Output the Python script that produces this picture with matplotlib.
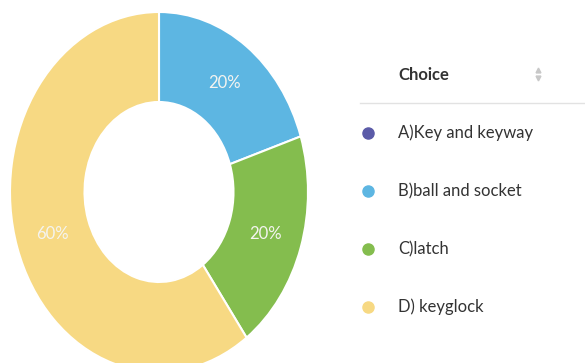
import matplotlib
matplotlib.use("Agg")
import matplotlib.pyplot as plt

categories = ["A)Key and keyway", "B)ball and socket", "C)latch", "D) keyglock"]
values = [0, 20, 20, 60]
colors = ["#5B5BA8", "#5DB6E2", "#84BD4E", "#F7D983"]
header = "Choice"

W, H = 585, 363
fig = plt.figure(figsize=(W / 100, H / 100), dpi=100)
fig.patch.set_facecolor("white")

# donut axes (stretched vertically like the reference)
cx, cy, rx, ry = 159, 192, 149, 180
ax = fig.add_axes([(cx - rx) / W, (H - (cy + ry)) / H, 2 * rx / W, 2 * ry / H])


def fmt(p):
    return f"{p:.0f}%" if p > 0.5 else ""


wedges, texts, autotexts = ax.pie(
    values, colors=colors, startangle=90, counterclock=False,
    radius=1.0, autopct=fmt, pctdistance=0.75,
    wedgeprops=dict(width=0.5, edgecolor="white", linewidth=1.5),
    textprops=dict(color="#F4F4F0", fontsize=12, family=["Lato", "DejaVu Sans"]),
)
ax.set_aspect("auto")
ax.set_xlim(-1, 1)
ax.set_ylim(-1, 1)
ax.axis("off")

# legend / table on the right
lx = fig.add_axes([0, 0, 1, 1])
lx.set_xlim(0, W)
lx.set_ylim(H, 0)
lx.axis("off")
fam = ["Lato", "DejaVu Sans"]
lx.text(398, 75, header, fontsize=12, fontweight="bold", color="#333333",
        va="center", ha="left", family=fam)
lx.plot([538], [70], marker="^", markersize=3.5, color="#C8C8C8", lw=0)
lx.plot([538], [78], marker="v", markersize=3.5, color="#C8C8C8", lw=0)
lx.plot([360, 585], [103, 103], color="#E2E2E2", lw=1)
ys = [133, 191, 249, 307]
for name, col, y in zip(categories, colors, ys):
    lx.plot([368], [y], marker="o", markersize=8, color=col, lw=0)
    lx.text(398, y, name, fontsize=12, color="#333333", va="center",
            ha="left", family=fam)

fig.savefig("out.png", dpi=100, facecolor="white")
